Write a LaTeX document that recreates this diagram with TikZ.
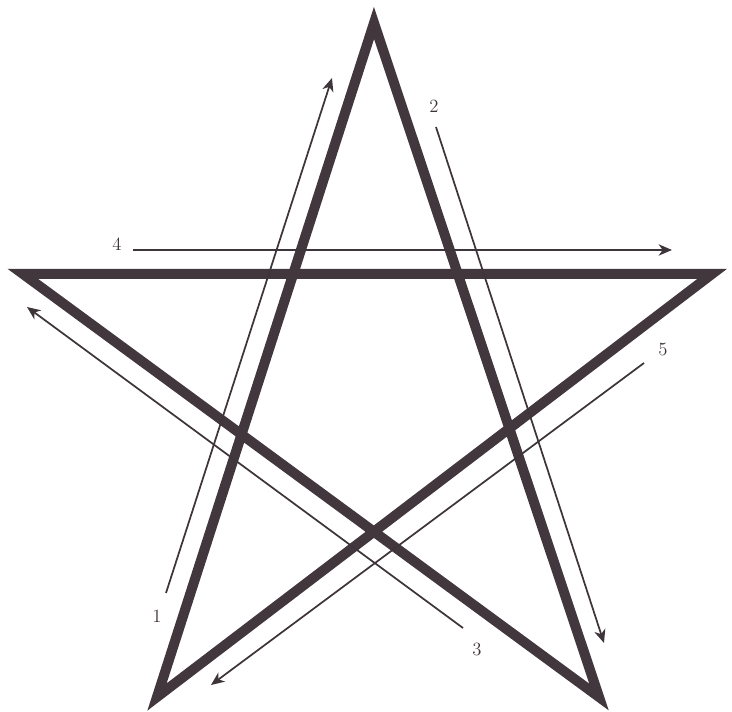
\documentclass[tikz,border=0pt]{standalone}
\usepackage{tikz}
\usetikzlibrary{arrows.meta}
\usepackage{xcolor}
\definecolor{StarInk}{RGB}{66, 55, 61}
\definecolor{ArrowInk}{RGB}{62, 53, 58}

\begin{document}
\begin{tikzpicture}[x=0.75pt, y=-0.75pt,
    starline/.style={draw=StarInk, line width=7.5pt, line join=miter, miter limit=12},
    stroke/.style={draw=ArrowInk, line width=1.3pt, -{Stealth[length=10pt, width=8.5pt, inset=3pt]}},
    numlabel/.style={text=ArrowInk, font=\fontsize{14}{14}\selectfont, inner sep=0pt}]
  \useasboundingbox (0,0) rectangle (732,712);
  % Star points
  \coordinate (top) at (374,23);
  \coordinate (left) at (23,274);
  \coordinate (right) at (712,274);
  \coordinate (botleft) at (157,697);
  \coordinate (botright) at (599,697);
  \draw[starline] (top) -- (botleft) -- (right) -- (left) -- (botright) -- cycle;
  % Stroke order arrows
  \coordinate (s1a) at (166,593);  \coordinate (s1b) at (332,78);
  \coordinate (s2a) at (436,127);  \coordinate (s2b) at (604,643);
  \coordinate (s3a) at (463,628);  \coordinate (s3b) at (27,307);
  \coordinate (s4a) at (133,250);  \coordinate (s4b) at (672,250);
  \coordinate (s5a) at (644,363);  \coordinate (s5b) at (211,685);
  \draw[stroke] (s1a) -- (s1b);
  \draw[stroke] (s2a) -- (s2b);
  \draw[stroke] (s3a) -- (s3b);
  \draw[stroke] (s4a) -- (s4b);
  \draw[stroke] (s5a) -- (s5b);
  % Numbers
  \node[numlabel] (n1) at (157,616) {1};
  \node[numlabel] (n2) at (434,106) {2};
  \node[numlabel] (n3) at (477,649) {3};
  \node[numlabel] (n4) at (117,244) {4};
  \node[numlabel] (n5) at (663,350) {5};
\end{tikzpicture}
\end{document}
